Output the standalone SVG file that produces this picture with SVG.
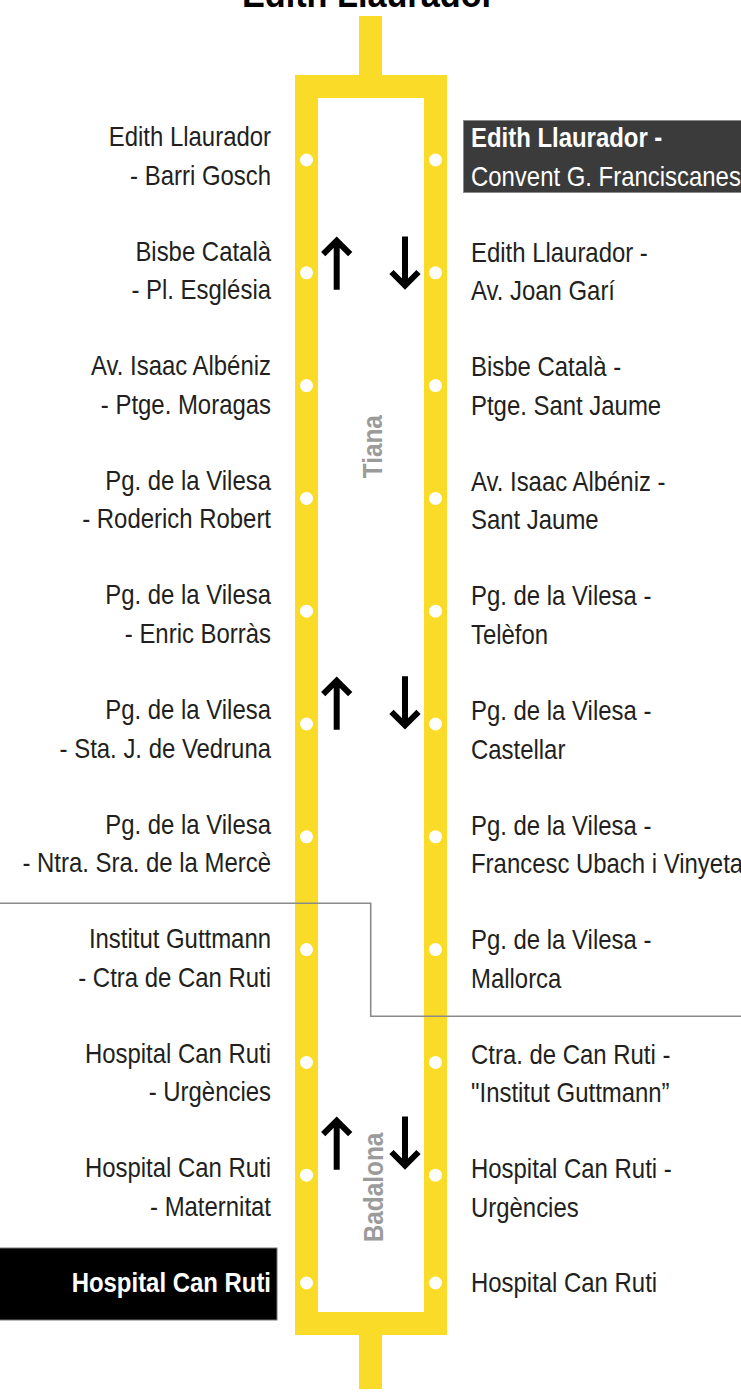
<svg xmlns="http://www.w3.org/2000/svg" width="741" height="1395" viewBox="0 0 741 1395">
<style>
.t{font-family:"Liberation Sans",Arial,sans-serif;font-size:27.5px;fill:#231f20}
.l{text-anchor:end}
.b{font-weight:bold}
.w{fill:#ffffff}
.area{font-family:"Liberation Sans",Arial,sans-serif;font-size:28px;font-weight:bold;fill:#9b9b9b;text-anchor:middle}
.dot{fill:#ffffff}
.arr{fill:none;stroke:#000;stroke-width:6;stroke-linejoin:miter;stroke-miterlimit:10}
</style>
<defs>
<path id="up" class="arr" d="M0 53 V4 M-13.5 17.5 L0 4 L13.5 17.5"/>
</defs>
<rect width="741" height="1395" fill="#ffffff"/>
<text x="368.4" y="7" class="t b" style="font-size:37px;fill:#000" text-anchor="middle" textLength="253" lengthAdjust="spacingAndGlyphs">Edith Llaurador</text>

<g id="line">
<rect x="359" y="16" width="23" height="60" fill="#fadc28"/>
<rect x="359" y="1334" width="23" height="55" fill="#fadc28"/>
<rect x="306.5" y="86.5" width="129" height="1237" fill="none" stroke="#fadc28" stroke-width="23"/>
</g>

<g id="areas">
<text class="area" transform="translate(381.5,446.7) rotate(-90) scale(0.87,1)">Tiana</text>
<text class="area" transform="translate(382.5,1187.5) rotate(-90) scale(0.87,1)">Badalona</text>
</g>

<g id="arrows">
<use href="#up" transform="translate(336.7,236.7)"/>
<use href="#up" transform="translate(405,289.5) rotate(180)"/>
<use href="#up" transform="translate(336.7,676.7)"/>
<use href="#up" transform="translate(405,729.3) rotate(180)"/>
<use href="#up" transform="translate(336.7,1116.7)"/>
<use href="#up" transform="translate(405,1169.5) rotate(180)"/>
</g>

<g id="stop-l1"><circle class="dot" cx="306.5" cy="160" r="6.5"/><text class="t l" transform="translate(271,146) scale(0.87,1)">Edith Llaurador</text><text class="t l" transform="translate(271,184.5) scale(0.87,1)">- Barri Gosch</text></g>
<g id="stop-l2"><circle class="dot" cx="306.5" cy="272.8" r="6.5"/><text class="t l" transform="translate(271,260.6) scale(0.87,1)">Bisbe Català</text><text class="t l" transform="translate(271,299.1) scale(0.87,1)">- Pl. Església</text></g>
<g id="stop-l3"><circle class="dot" cx="306.5" cy="385.6" r="6.5"/><text class="t l" transform="translate(271,375.2) scale(0.87,1)">Av. Isaac Albéniz</text><text class="t l" transform="translate(271,413.7) scale(0.87,1)">- Ptge. Moragas</text></g>
<g id="stop-l4"><circle class="dot" cx="306.5" cy="498.4" r="6.5"/><text class="t l" transform="translate(271,489.8) scale(0.87,1)">Pg. de la Vilesa</text><text class="t l" transform="translate(271,528.3) scale(0.87,1)">- Roderich Robert</text></g>
<g id="stop-l5"><circle class="dot" cx="306.5" cy="611.2" r="6.5"/><text class="t l" transform="translate(271,604.4) scale(0.87,1)">Pg. de la Vilesa</text><text class="t l" transform="translate(271,642.9) scale(0.87,1)">- Enric Borràs</text></g>
<g id="stop-l6"><circle class="dot" cx="306.5" cy="724" r="6.5"/><text class="t l" transform="translate(271,719) scale(0.87,1)">Pg. de la Vilesa</text><text class="t l" transform="translate(271,757.5) scale(0.87,1)">- Sta. J. de Vedruna</text></g>
<g id="stop-l7"><circle class="dot" cx="306.5" cy="836.8" r="6.5"/><text class="t l" transform="translate(271,833.6) scale(0.87,1)">Pg. de la Vilesa</text><text class="t l" transform="translate(271,872.1) scale(0.87,1)">- Ntra. Sra. de la Mercè</text></g>
<g id="stop-l8"><circle class="dot" cx="306.5" cy="949.6" r="6.5"/><text class="t l" transform="translate(271,948.2) scale(0.87,1)">Institut Guttmann</text><text class="t l" transform="translate(271,986.7) scale(0.87,1)">- Ctra de Can Ruti</text></g>
<g id="stop-l9"><circle class="dot" cx="306.5" cy="1062.4" r="6.5"/><text class="t l" transform="translate(271,1062.8) scale(0.87,1)">Hospital Can Ruti</text><text class="t l" transform="translate(271,1101.3) scale(0.87,1)">- Urgències</text></g>
<g id="stop-l10"><circle class="dot" cx="306.5" cy="1175.2" r="6.5"/><text class="t l" transform="translate(271,1177.4) scale(0.87,1)">Hospital Can Ruti</text><text class="t l" transform="translate(271,1215.9) scale(0.87,1)">- Maternitat</text></g>
<g id="stop-l11"><rect x="-1" y="1248" width="278" height="72" fill="#000" stroke="#777" stroke-width="1"/><circle class="dot" cx="306.5" cy="1283" r="6.5"/><text class="t l b w" transform="translate(271,1292) scale(0.87,1)">Hospital Can Ruti</text></g>

<g id="stop-r1"><rect x="463.5" y="120.5" width="280" height="72" fill="#3b3b3b" stroke="#8a8a8a" stroke-width="1"/><circle class="dot" cx="435.5" cy="160" r="6.5"/><text class="t b w" transform="translate(471,147) scale(0.87,1)">Edith Llaurador -</text><text class="t w" transform="translate(471,185.5) scale(0.87,1)">Convent G. Franciscanes</text></g>
<g id="stop-r2"><circle class="dot" cx="435.5" cy="272.8" r="6.5"/><text class="t" transform="translate(471,261.6) scale(0.87,1)">Edith Llaurador -</text><text class="t" transform="translate(471,300.1) scale(0.87,1)">Av. Joan Garí</text></g>
<g id="stop-r3"><circle class="dot" cx="435.5" cy="385.6" r="6.5"/><text class="t" transform="translate(471,376.2) scale(0.87,1)">Bisbe Català -</text><text class="t" transform="translate(471,414.7) scale(0.87,1)">Ptge. Sant Jaume</text></g>
<g id="stop-r4"><circle class="dot" cx="435.5" cy="498.4" r="6.5"/><text class="t" transform="translate(471,490.8) scale(0.87,1)">Av. Isaac Albéniz -</text><text class="t" transform="translate(471,529.3) scale(0.87,1)">Sant Jaume</text></g>
<g id="stop-r5"><circle class="dot" cx="435.5" cy="611.2" r="6.5"/><text class="t" transform="translate(471,605.4) scale(0.87,1)">Pg. de la Vilesa -</text><text class="t" transform="translate(471,643.9) scale(0.87,1)">Telèfon</text></g>
<g id="stop-r6"><circle class="dot" cx="435.5" cy="724" r="6.5"/><text class="t" transform="translate(471,720) scale(0.87,1)">Pg. de la Vilesa -</text><text class="t" transform="translate(471,758.5) scale(0.87,1)">Castellar</text></g>
<g id="stop-r7"><circle class="dot" cx="435.5" cy="836.8" r="6.5"/><text class="t" transform="translate(471,834.6) scale(0.87,1)">Pg. de la Vilesa -</text><text class="t" transform="translate(471,873.1) scale(0.87,1)">Francesc Ubach i Vinyeta</text></g>
<g id="stop-r8"><circle class="dot" cx="435.5" cy="949.6" r="6.5"/><text class="t" transform="translate(471,949.2) scale(0.87,1)">Pg. de la Vilesa -</text><text class="t" transform="translate(471,987.7) scale(0.87,1)">Mallorca</text></g>
<g id="stop-r9"><circle class="dot" cx="435.5" cy="1062.4" r="6.5"/><text class="t" transform="translate(471,1063.8) scale(0.87,1)">Ctra. de Can Ruti -</text><text class="t" transform="translate(471,1102.3) scale(0.87,1)">"Institut Guttmann”</text></g>
<g id="stop-r10"><circle class="dot" cx="435.5" cy="1175.2" r="6.5"/><text class="t" transform="translate(471,1178.4) scale(0.87,1)">Hospital Can Ruti -</text><text class="t" transform="translate(471,1216.9) scale(0.87,1)">Urgències</text></g>
<g id="stop-r11"><circle class="dot" cx="435.5" cy="1283" r="6.5"/><text class="t" transform="translate(471,1292) scale(0.87,1)">Hospital Can Ruti</text></g>

<g id="connectors">
<polyline points="0,903.3 370.7,903.3 370.7,1016.3 741,1016.3" fill="none" stroke="#8a8a8a" stroke-width="1.6"/>
</g>
</svg>
